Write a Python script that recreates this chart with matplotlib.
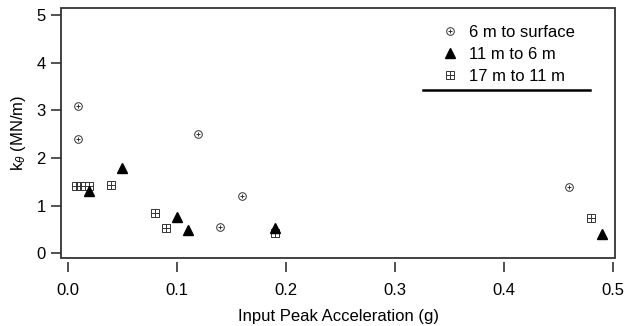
import matplotlib.pyplot as plt
from matplotlib.patches import Rectangle
from matplotlib.lines import Line2D

plt.rcParams['font.family'] = ['Liberation Sans', 'DejaVu Sans']
plt.rcParams['mathtext.fontset'] = 'custom'
plt.rcParams['mathtext.rm'] = 'Liberation Sans'
plt.rcParams['mathtext.it'] = 'Liberation Sans:italic'

# data
acc_surface = [0.01, 0.01, 0.12, 0.14, 0.16, 0.46]
k_surface = [3.1, 2.4, 2.5, 0.56, 1.2, 1.4]

acc_mid = [0.02, 0.05, 0.10, 0.11, 0.19, 0.49]
k_mid = [1.3, 1.8, 0.77, 0.48, 0.52, 0.4]

acc_deep = [0.008, 0.012, 0.02, 0.04, 0.08, 0.09, 0.19, 0.48]
k_deep = [1.41, 1.41, 1.42, 1.43, 0.85, 0.54, 0.43, 0.74]

labels = ["6 m to surface", "11 m to 6 m", "17 m to 11 m"]

fig = plt.figure(figsize=(6.26, 3.26), dpi=100)
ax = fig.add_axes([61/626, 1 - 258/326, 554/626, 250/326])

c1 = ax.plot(acc_surface, k_surface, 'o', ms=5.5, mfc='white', mec='#333333', mew=0.7, ls='none')[0]
c2 = ax.plot(acc_surface, k_surface, '+', ms=3.5, color='#333333', mew=0.7, ls='none')[0]
s1 = ax.plot(acc_deep, k_deep, 's', ms=6, mfc='none', mec='#333333', mew=0.7, ls='none')[0]
s2 = ax.plot(acc_deep, k_deep, '+', ms=6, color='#333333', mew=0.7, ls='none')[0]
t1 = ax.plot(acc_mid, k_mid, '^', ms=7, color='black', ls='none')[0]

ax.set_xlim(-0.006, 0.502)
ax.set_ylim(-0.1, 5.15)
ax.set_xticks([0.0, 0.1, 0.2, 0.3, 0.4, 0.5])
ax.set_yticks([0, 1, 2, 3, 4, 5])
ax.set_xticklabels(['0.0', '0.1', '0.2', '0.3', '0.4', '0.5'])

# frame drawn separately, x ticks float below it
for s in ax.spines.values():
    s.set_visible(False)
ax.spines['bottom'].set_position(('outward', 3))
ax.add_patch(Rectangle((0, 0), 1, 1, transform=ax.transAxes, fill=False,
                       ec='#333333', lw=1.3, clip_on=False, zorder=5))
ax.tick_params(direction='out', length=7, width=1.2, color='#333333',
               labelsize=12, pad=4)
ax.tick_params(axis='x', pad=8)

ax.set_xlabel('Input Peak Acceleration (g)', fontsize=12, labelpad=8)
ax.set_ylabel(r'k$_\theta$ (MN/m)', fontsize=12, labelpad=6)

leg = ax.legend([(c1, c2), t1, (s1, s2)], labels, loc='upper left',
                bbox_to_anchor=(0.67, 0.958), frameon=False, fontsize=12,
                handletextpad=0.5, labelspacing=0.42, handlelength=1.3,
                borderaxespad=0.0)

ax.add_line(Line2D([0.653, 0.955], [0.672, 0.672], transform=ax.transAxes,
                   color='black', lw=1.8))

fig.savefig('out.png', dpi=100)
